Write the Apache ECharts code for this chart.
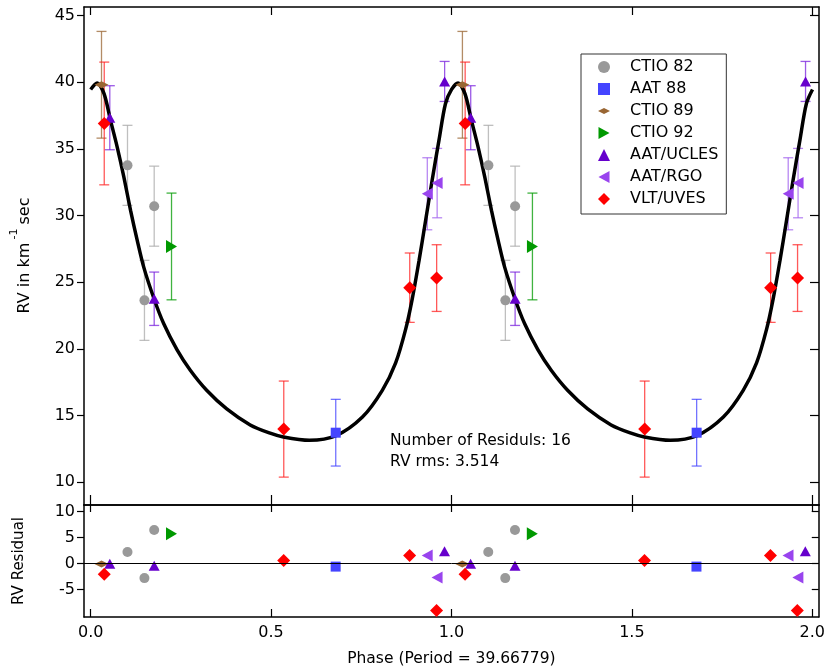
<!DOCTYPE html>
<html>
<head>
<meta charset="utf-8">
<title>RV phase plot</title>
<script src="https://cdn.jsdelivr.net/npm/echarts@6/dist/echarts.min.js"></script>
<style>
  html, body { margin: 0; padding: 0; background: #fff; }
  #chart { width: 828px; height: 670px; }
</style>
</head>
<body>
<div id="chart"></div>
<script>
// 刻度
const phaseTicks = [0, 0.5, 1.0, 1.5, 2.0];
const rvTicks = [10, 15, 20, 25, 30, 35, 40, 45];
const resTicks = [-5, 0, 5, 10];

// 各仪器数据 (相位, RV, 误差, 残差) —— 只存一个周期
const ctio82Phase = [0.102, 0.149, 0.176];
const ctio82Rv = [33.76, 23.64, 30.7];
const ctio82Err = [3.0, 3.0, 3.0];
const ctio82Res = [2.25, -2.8, 6.48];

const aat88Phase = [0.679];
const aat88Rv = [13.72];
const aat88Err = [2.5];
const aat88Res = [-0.58];

const ctio89Phase = [0.030];
const ctio89Rv = [39.8];
const ctio89Err = [4.0];
const ctio89Res = [-0.1];

const ctio92Phase = [0.224];
const ctio92Rv = [27.68];
const ctio92Err = [4.0];
const ctio92Res = [5.77];

const uclesPhase = [0.053, 0.176, 0.9807];
const uclesRv = [37.33, 23.76, 40.05];
const uclesErr = [2.4, 2.0, 1.5];
const uclesRes = [-0.05, -0.4, 2.4];

const rgoPhase = [0.9327, 0.960];
const rgoRv = [31.63, 32.43];
const rgoErr = [2.7, 2.6];
const rgoRes = [1.55, -2.7];

const uvesPhase = [0.0376, 0.535, 0.884, 0.9586];
const uvesRv = [36.9, 13.99, 24.59, 25.31];
const uvesErr = [4.6, 3.6, 2.6, 2.5];
const uvesRes = [-2.04, 0.58, 1.55, -9.04];

// 拟合曲线 (一个周期, 从图上读取)
const curvePhase = [0.000, 0.018, 0.037, 0.055, 0.0735, 0.092, 0.1105, 0.129, 0.147, 0.175,
  0.2025, 0.239, 0.276, 0.322, 0.377, 0.442, 0.495, 0.534, 0.606, 0.680,
  0.753, 0.808, 0.845, 0.873, 0.891, 0.9097, 0.928, 0.946, 0.965, 0.983, 1.000];
const curveRv = [39.45, 39.93, 39.13, 37.13, 35.13, 32.88, 30.38, 28.13, 26.13, 23.8,
  21.88, 19.95, 18.4, 16.88, 15.5, 14.3, 13.7, 13.4, 13.15, 13.5,
  14.89, 16.89, 18.95, 21.5, 23.75, 26.6, 29.63, 32.63, 35.63, 38.38, 39.45];

// 两个周期展开
function twoCycles(phases, cols) {
  const out = [];
  [0, 1].forEach(k => {
    phases.forEach((p, i) => out.push([p + k].concat(cols.map(c => c[i]))));
  });
  return out;
}

const instruments = [
  { name: 'CTIO 82', phase: ctio82Phase, rv: ctio82Rv, err: ctio82Err, res: ctio82Res,
    color: '#999999', errColor: '#aaaaaa', symbol: 'circle', size: 10, rotate: 0 },
  { name: 'AAT 88', phase: aat88Phase, rv: aat88Rv, err: aat88Err, res: aat88Res,
    color: '#4444ff', errColor: '#4444ff', symbol: 'rect', size: 10, rotate: 0 },
  { name: 'CTIO 89', phase: ctio89Phase, rv: ctio89Rv, err: ctio89Err, res: ctio89Res,
    color: '#996633', errColor: '#996633', symbol: 'diamond', size: [14, 7], rotate: 0,
    icon: 'path://M6,0L6,0M6,12L6,12M0,6L6,3L12,6L6,9Z' },
  { name: 'CTIO 92', phase: ctio92Phase, rv: ctio92Rv, err: ctio92Err, res: ctio92Res,
    color: '#009900', errColor: '#009900', symbol: 'triangle', size: [13, 11], rotate: -90,
    icon: 'path://M1,0L12,6L1,12Z' },
  { name: 'AAT/UCLES', phase: uclesPhase, rv: uclesRv, err: uclesErr, res: uclesRes,
    color: '#6600cc', errColor: '#7a22dd', symbol: 'triangle', size: [11, 10], rotate: 0 },
  { name: 'AAT/RGO', phase: rgoPhase, rv: rgoRv, err: rgoErr, res: rgoRes,
    color: '#9944ee', errColor: '#a060ee', symbol: 'triangle', size: [12, 11], rotate: 90,
    icon: 'path://M11,0L0,6L11,12Z' },
  { name: 'VLT/UVES', phase: uvesPhase, rv: uvesRv, err: uvesErr, res: uvesRes,
    color: '#ff0000', errColor: '#ff2222', symbol: 'diamond', size: 13, rotate: 0 }
];

// 误差棒
function errRender(color) {
  return function (params, api) {
    const x = api.value(0), y = api.value(1), e = api.value(2);
    const top = api.coord([x, y + e]);
    const bot = api.coord([x, y - e]);
    const cw = 5;
    const style = { stroke: color, lineWidth: 1.3, opacity: 0.75 };
    return {
      type: 'group',
      children: [
        { type: 'line', shape: { x1: top[0], y1: top[1], x2: bot[0], y2: bot[1] }, style: style },
        { type: 'line', shape: { x1: top[0] - cw, y1: top[1], x2: top[0] + cw, y2: top[1] }, style: style },
        { type: 'line', shape: { x1: bot[0] - cw, y1: bot[1], x2: bot[0] + cw, y2: bot[1] }, style: style }
      ]
    };
  };
}

const curveData = [];
curvePhase.forEach((p, i) => curveData.push([p, curveRv[i]]));
curvePhase.forEach((p, i) => { if (i > 0) curveData.push([p + 1, curveRv[i]]); });

const series = [];
instruments.forEach(ins => {
  series.push({
    name: ins.name + ' err', type: 'custom', xAxisIndex: 0, yAxisIndex: 0,
    renderItem: errRender(ins.errColor), z: 1,
    encode: { x: 0, y: 1 },
    data: twoCycles(ins.phase, [ins.rv, ins.err])
  });
});
series.push({
  name: 'model', type: 'line', xAxisIndex: 0, yAxisIndex: 0,
  data: curveData, smooth: 0.3, showSymbol: false, z: 2,
  lineStyle: { color: '#000', width: 3.5 }
});
instruments.forEach(ins => {
  series.push({
    name: ins.name, type: 'scatter', xAxisIndex: 0, yAxisIndex: 0, z: 3,
    symbol: ins.symbol, symbolSize: ins.size, symbolRotate: ins.rotate,
    itemStyle: { color: ins.color, opacity: 1 },
    data: twoCycles(ins.phase, [ins.rv])
  });
  series.push({
    name: ins.name, type: 'scatter', xAxisIndex: 2, yAxisIndex: 2, z: 3,
    symbol: ins.symbol, symbolSize: ins.size, symbolRotate: ins.rotate,
    itemStyle: { color: ins.color, opacity: 1 },
    data: twoCycles(ins.phase, [ins.res])
  });
});
// 残差零线
series.push({
  name: 'zero', type: 'line', xAxisIndex: 2, yAxisIndex: 2, data: [],
  markLine: {
    silent: true, symbol: 'none', label: { show: false },
    lineStyle: { color: '#000', width: 1, type: 'solid' },
    data: [{ yAxis: 0 }]
  }
});

const X_MIN = -0.0185, X_MAX = 2.018;
const axisLine = { show: true, onZero: false, lineStyle: { color: '#000', width: 1.5 } };
const tickStyle = { color: '#000', width: 1.2 };

function xAxis(grid, pos, len, withLabel) {
  return {
    type: 'value', gridIndex: grid, position: pos, min: X_MIN, max: X_MAX,
    axisLine: axisLine, splitLine: { show: false },
    axisTick: { show: true, inside: true, length: len, lineStyle: tickStyle, customValues: phaseTicks },
    axisLabel: { show: withLabel, customValues: phaseTicks, fontSize: 16, color: '#000', margin: 8,
      formatter: v => v.toFixed(1) }
  };
}
function yAxis(grid, pos, min, max, ticks, inside, len, withLabel) {
  return {
    type: 'value', gridIndex: grid, position: pos, min: min, max: max,
    axisLine: axisLine, splitLine: { show: false },
    axisTick: { show: true, inside: inside, length: len, lineStyle: tickStyle, customValues: ticks },
    axisLabel: { show: withLabel, customValues: ticks, fontSize: 16, color: '#000', margin: 9 }
  };
}

const xa2 = xAxis(1, 'bottom', 8, true);
xa2.name = 'Phase (Period = 39.66779)';
xa2.nameLocation = 'middle';
xa2.nameGap = 34;
xa2.nameTextStyle = { fontSize: 15.5, color: '#000' };

const chart = echarts.init(document.getElementById('chart'), null, { renderer: 'canvas' });
chart.setOption({
  animation: false,
  textStyle: { fontFamily: '"DejaVu Sans", sans-serif' },
  grid: [
    { left: 84, right: 9, top: 7, height: 498 },
    { left: 84, right: 9, top: 505, height: 112 }
  ],
  xAxis: [
    xAxis(0, 'bottom', 10, false),
    xAxis(0, 'top', 8, false),
    xa2,
    xAxis(1, 'top', 7, false)
  ],
  yAxis: [
    yAxis(0, 'left', 8.3, 45.63, rvTicks, false, 7, true),
    yAxis(0, 'right', 8.3, 45.63, rvTicks, true, 9, false),
    yAxis(1, 'left', -10.3, 11.3, resTicks, false, 7, true),
    yAxis(1, 'right', -10.3, 11.3, resTicks, true, 7, false)
  ],
  legend: {
    orient: 'vertical', left: 581, top: 54,
    selectedMode: false,
    backgroundColor: '#fff', borderColor: '#333', borderWidth: 1,
    padding: [4, 8, 6, 17],
    itemWidth: 12, itemHeight: 12, itemGap: 4,
    textStyle: { fontSize: 16, color: '#000', lineHeight: 18, padding: [0, 0, 0, 15] },
    data: instruments.map(ins => ins.icon ? { name: ins.name, icon: ins.icon } : { name: ins.name })
  },
  graphic: [
    { type: 'text', x: 25, y: 278, rotation: Math.PI / 2,
      style: { text: 'RV in km', fontSize: 16, fontFamily: 'DejaVu Sans', fill: '#000', align: 'center', verticalAlign: 'middle' } },
    { type: 'text', x: 14, y: 234, rotation: Math.PI / 2,
      style: { text: '-1', fontSize: 11, fontFamily: 'DejaVu Sans', fill: '#000', align: 'center', verticalAlign: 'middle' } },
    { type: 'text', x: 25, y: 211, rotation: Math.PI / 2,
      style: { text: 'sec', fontSize: 16, fontFamily: 'DejaVu Sans', fill: '#000', align: 'center', verticalAlign: 'middle' } },
    { type: 'text', x: 19, y: 561, rotation: Math.PI / 2,
      style: { text: 'RV Residual', fontSize: 15, fontFamily: 'DejaVu Sans', fill: '#000', align: 'center', verticalAlign: 'middle' } },
    { type: 'text', x: 390, y: 441,
      style: { text: 'Number of Residuls: 16', fontSize: 15.5, fontFamily: 'DejaVu Sans', fill: '#000', align: 'left', verticalAlign: 'middle' } },
    { type: 'text', x: 390, y: 462,
      style: { text: 'RV rms: 3.514', fontSize: 15.5, fontFamily: 'DejaVu Sans', fill: '#000', align: 'left', verticalAlign: 'middle' } }
  ],
  series: series
});
</script>
</body>
</html>
